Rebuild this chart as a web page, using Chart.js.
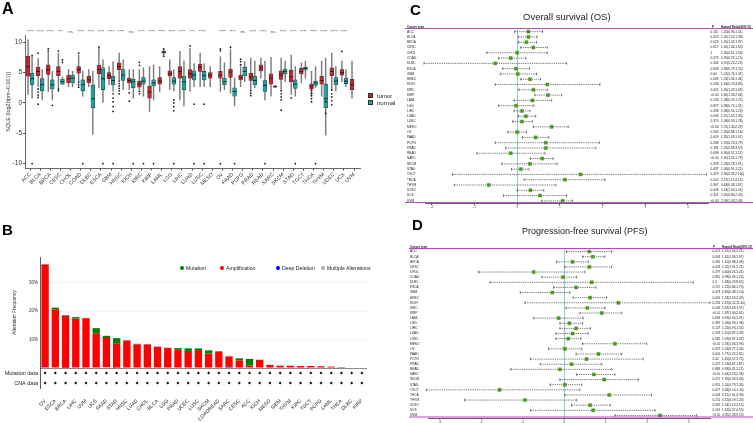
<!DOCTYPE html>
<html>
<head>
<meta charset="utf-8">
<title>SQLE pan-cancer</title>
<script src="https://cdn.jsdelivr.net/npm/chart.js@4.4.1/dist/chart.umd.min.js"></script>
<style>
  html, body { margin: 0; padding: 0; background: #fff; }
  body { position: relative; width: 753px; height: 423px; overflow: hidden; font-family: "Liberation Sans", Arial, sans-serif; color: #222; }
  canvas { position: absolute; }
  .txt { position: absolute; white-space: nowrap; line-height: 1; }
  .panel { font-weight: bold; font-size: 15px; color: #000; }
  .sq { position: absolute; width: 5px; height: 5px; box-sizing: border-box; border: 0.7px solid #333; }
  .dot { position: absolute; width: 4px; height: 4px; border-radius: 50%; }
</style>
</head>
<body>
<canvas id="boxA" width="365" height="205" style="left:0;top:0"></canvas>
<canvas id="barB" width="380" height="183" style="left:0;top:240px"></canvas>
<canvas id="forestC" width="351" height="216" style="left:402px;top:0"></canvas>
<canvas id="forestD" width="351" height="208" style="left:402px;top:215px"></canvas>

<div class="txt panel" style="left:2px;top:1px;font-size:16px">A</div>
<div class="txt panel" style="left:2px;top:222px">B</div>
<div class="txt panel" style="left:410px;top:2px">C</div>
<div class="txt panel" style="left:412px;top:217px">D</div>

<!-- legend A -->
<div class="sq" style="left:368px;top:93px;background:#C9252C"></div>
<div class="txt" style="left:377px;top:93px;font-size:6px">tumor</div>
<div class="sq" style="left:368px;top:100px;background:#1FA39F"></div>
<div class="txt" style="left:377px;top:100px;font-size:6px">normal</div>

<!-- legend B -->
<div class="dot" style="left:180px;top:266px;background:#008000"></div>
<div class="txt" style="left:186px;top:265.7px;font-size:5.2px">Mutation</div>
<div class="dot" style="left:220px;top:266px;background:#FF0000"></div>
<div class="txt" style="left:226px;top:265.7px;font-size:5.2px">Amplification</div>
<div class="dot" style="left:276px;top:266px;background:#0000FF"></div>
<div class="txt" style="left:282px;top:265.7px;font-size:5.2px">Deep Deletion</div>
<div class="dot" style="left:321px;top:266px;background:#AAAAAA"></div>
<div class="txt" style="left:327px;top:265.7px;font-size:5.2px">Multiple Alterations</div>

<!-- forest headers -->
<div class="txt" style="left:523px;top:12px;font-size:9.5px;color:#222">Overall survival (OS)</div>
<div class="txt" style="left:407px;top:25.5px;font-size:3px;font-weight:bold">Cancer type</div>
<div class="txt" style="left:712px;top:25.5px;font-size:3px;font-weight:bold">P</div>
<div class="txt" style="left:721px;top:25.5px;font-size:3px;font-weight:bold">Hazard Ratio(95% CI)</div>

<div class="txt" style="left:522px;top:227px;font-size:9px;color:#222">Progression-free survival (PFS)</div>
<div class="txt" style="left:410px;top:245.5px;font-size:3px;font-weight:bold">Cancer type</div>
<div class="txt" style="left:713px;top:245.5px;font-size:3px;font-weight:bold">P</div>
<div class="txt" style="left:722px;top:245.5px;font-size:3px;font-weight:bold">Hazard Ratio(95% CI)</div>

<script>
// ---- panel A: SQLE expression, tumor vs normal ----
const cancers = ['ACC','BLCA','BRCA','CESC','CHOL','COAD','DLBC','ESCA','GBM','HNSC','KICH','KIRC','KIRP',
  'LAML','LGG','LIHC','LUAD','LUSC','MESO','OV','PAAD','PCPG','PRAD','READ','SARC','SKCM','STAD','TGCT',
  'THCA','THYM','UCEC','UCS','UVM'];
const sigLabels = ['****','****','****','***','ns','****','****','****','****','****','ns','****','****',
  '****','****','****','***','****','','****','****','ns','****','****','ns','****','****','****',
  '****','****','****','****',''];
// [min, q1, median, q3, max]
const tumorStats = [
  [1.4,4.4,6.0,7.7,10.4],[2.7,4.5,5.2,5.9,7.3],[1.9,4.7,5.5,6.3,8.2],[2.5,4.5,5.2,6.0,8.2],
  [2.7,3.3,4.0,4.6,5.5],[3.5,4.9,5.5,6.0,7.9],[2.7,3.3,3.8,4.4,5.5],[2.5,4.8,5.5,6.2,9.0],
  [3.0,4.0,4.5,5.0,6.0],[3.8,5.5,6.0,6.6,8.2],[2.2,3.3,3.7,4.1,5.5],[2.1,2.6,3.1,3.6,5.5],
  [-1.4,0.8,1.8,2.8,6.0],[1.8,3.1,3.6,4.2,6.0],[2.2,4.4,4.8,5.3,7.1],[0.5,4.1,5.2,6.0,8.5],
  [1.9,4.1,4.8,5.5,9.0],[2.7,5.2,5.9,6.4,8.2],[2.7,4.1,4.6,5.0,6.0],[1.9,4.1,4.6,5.2,7.6],
  [1.6,4.2,5.1,5.6,8.8],[2.7,3.8,4.2,4.6,6.0],[2.2,3.7,4.3,4.9,7.4],[4.1,5.3,5.8,6.3,7.4],
  [1.1,3.1,4.1,4.8,7.5],[2.2,3.9,4.6,5.3,7.4],[1.4,3.5,4.3,5.4,7.9],[3.3,4.8,5.2,5.7,6.6],
  [1.1,2.3,2.7,3.1,5.2],[1.1,3.1,3.7,4.4,6.9],[2.2,4.5,5.2,5.8,8.2],[3.5,4.6,5.0,5.5,6.9],
  [0.8,2.2,3.0,3.9,6.9]
];
const normalStats = [
  [0.8,3.0,4.0,4.9,7.6],[0.5,2.0,3.0,4.0,5.5],[0.5,2.3,3.0,3.8,5.2],[3.0,3.1,3.5,3.9,4.3],
  [2.7,3.3,4.1,4.6,5.2],[1.1,2.0,3.0,3.8,5.2],[-5.2,-0.8,0.7,3.0,5.2],[0.0,2.2,4.0,5.8,7.1],
  [1.9,3.0,3.7,4.4,6.8],[2.2,3.7,4.6,5.5,7.1],[0.8,2.5,3.5,3.9,5.5],[1.1,3.1,3.6,4.2,5.8],
  [0.5,2.8,3.3,3.8,6.3],[7.9,8.2,8.35,8.5,8.8],[2.0,3.1,3.6,4.2,5.5],[-0.5,2.2,3.5,4.4,6.9],
  [2.7,3.8,4.6,5.3,6.5],[2.7,3.8,4.5,5.2,6.5],null,[2.2,3.0,3.5,4.1,6.6],
  [-0.5,1.1,1.9,2.5,4.1],[3.5,4.5,5.2,5.9,6.8],[2.5,3.0,3.7,4.4,6.9],[0.5,1.9,2.9,3.7,6.9],
  [2.5,2.6,2.7,2.8,2.9],[3.5,4.8,5.2,5.6,6.9],[1.1,2.4,3.1,3.8,6.0],[4.1,5.4,5.7,5.9,6.9],
  [2.5,2.9,3.3,3.6,6.0],[-5.3,-0.8,0.7,3.1,7.4],[2.0,3.0,3.6,4.2,6.0],[2.7,3.2,3.6,4.1,5.5],
  null
];
// [cancer index, value]
const tumorOutliers = [
  [1,8.2],[1,2.3],[1,1.8],[1,1.3],[1,0.9],[1,-0.2],[2,8.9],[2,8.5],[3,8.6],[3,2.3],[3,2.0],
  [5,8.2],[5,3.4],[5,3.0],[5,2.6],[7,9.2],[9,3.6],[9,3.2],[9,2.8],[9,2.4],[9,2.0],[9,1.5],
  [10,1.7],[10,0.3],[11,6.2],[11,6.7],[11,1.9],[11,1.5],[16,9.4],[19,8.6],[19,8.9],[19,-10],
  [20,9.2],[21,6.3],[21,6.8],[21,7.2],[22,2.0],[22,1.6],[22,1.2],[25,2.0],[25,1.5],[25,1.0],
  [25,0.5],[25,-1.2],[26,0.8],[28,2.1],[28,1.6],[28,1.2],[28,0.7],[28,0.2],[30,2.1],[30,1.5],
  [30,1.0],[30,0.4],[30,-0.3],[31,8.5]
];
const normalOutliers = [
  [0,7.8],[0,-10],[2,-0.4],[3,6.7],[3,7.1],[5,-10],[7,-10],[8,1.5],[8,0.8],[8,0.2],[8,-0.6],
  [8,-1.4],[8,-10],[10,-10],[11,-10],[12,-10],[13,8.9],[13,7.7],[14,0.5],[14,0],[14,-0.6],
  [14,-1.3],[14,-10],[16,-0.2],[16,-10],[17,-0.2],[17,-10],[20,-10],[23,-10],[26,-10],[28,-10],
  [29,0.2],[29,-1.7]
];
const yTicksA = [-10, -5, 0, 5, 10];

// ---- panel B: alteration frequency (%) ----
const bCancers = ['OV','ESCA','BRCA','LIHC','UVM','UCS','PAAD','STAD','HNSC','LUAD','CHOL','BLCA','LGG',
  'PRAD','UCEC','LUSC','SKCM','COADREAD','SARC','CESC','ACC','KICH','MESO','GBM','THYM','KIRC','TGCT',
  'PCPG','LAML','THCA','DLBC','KIRP'];
const deepDel  = [0.3,0,0.1,0.3,0,0,0,0,0,0,0,0,0,0,0,0,0,0,0.4,0,0,0,0,0,0,0,0,0,0,0.3,0,0];
const multiAlt = [0,0,0,0,0,0,0.3,0.1,0,0,0,0,0,0,0,0,0,0,0,0,0,0,0,0,0,0,0,0,0,0,0,0];
const amp      = [36.1,20.6,18.3,17.1,17.5,12.2,10.6,8.6,9.7,8.3,8.3,7.5,7.1,6.6,6.0,6.3,5.1,5.7,3.7,
  2.7,0.9,2.9,1.1,0.8,0.8,0.7,0.7,0.6,0.5,0,0,0];
const mut      = [0,0.6,0.2,0.5,0,1.8,0.4,1.8,0,0.2,0,0,0,0.4,0.9,0.6,1.1,0.2,0,0.7,2.3,0,0,0,0,0,0,0,0,0,0,0];
const freqTicks = [0, 10, 20, 30];
const rowLabels = ['Mutation data', 'CNA data'];

// ---- panel C: overall survival ----
const osHR = [1.20,1.20,1.16,1.30,1.00,0.90,0.70,0.98,1.01,1.23,1.63,1.30,1.65,1.28,0.98,1.08,1.15,
  1.08,1.75,1.00,1.35,1.59,1.59,0.90,1.50,1.23,1.06,2.80,2.17,0.63,1.24,1.45,2.09];
const osLow = [0.96,1.02,1.02,1.06,0.61,0.74,0.22,0.79,0.76,1.06,0.70,1.03,1.33,0.95,0.74,0.95,1.02,
  0.93,1.30,0.86,1.09,0.70,0.83,0.52,1.24,0.78,0.91,0.35,1.12,0.36,1.00,0.80,1.49];
const osHigh = [1.51,1.38,1.37,1.63,1.63,1.15,2.23,1.22,1.37,1.46,3.83,1.63,2.06,1.75,1.31,1.23,1.35,
  1.28,2.29,1.16,1.67,3.79,3.59,1.57,1.79,1.91,1.21,21.6,4.15,1.87,1.54,2.23,2.46];
const osP = ['0.110','0.014','0.029','0.017','1','0.579','0.344','0.846','0.64','0.009','0.208','0.025',
  '<0.001','0.158','0.877','0.458','0.039','0.370','<0.001','0.945','0.009','0.268','0.181','0.698',
  '<0.001','0.378','0.437','0.329','0.021','0.367','0.046','0.321','<0.001'];

// ---- panel D: progression-free survival ----
const pfsHR = [1.52,1.61,1.15,1.52,0.60,0.98,1.58,1.22,0.82,1.54,2.47,1.47,1.87,0.91,1.09,1.22,1.15,
  1.07,2.33,1.01,1.77,1.45,1.13,0.93,1.64,1.95,1.01,0.34,2.12,0.52,1.54,1.62,4.95];
const pfsLow = [1.04,1.36,0.88,1.01,0.24,0.69,0.29,0.84,0.48,1.16,0.52,1.03,1.30,0.60,0.93,0.93,0.87,
  0.87,1.36,0.77,1.22,0.57,0.67,0.41,1.23,0.93,0.79,0.10,1.01,0.19,1.13,0.57,2.33];
const pfsHigh = [2.21,1.97,1.49,2.21,1.41,1.23,8.62,1.70,1.10,2.03,11.4,1.97,2.61,1.37,1.36,1.55,1.49,
  1.32,3.96,1.34,2.61,3.74,1.87,2.21,2.33,3.44,1.34,1.30,4.30,1.23,2.15,4.55,9.13];
const pfsP = ['0.027','0.001','0.282','0.041','0.379','0.862','0.5','0.217','0.478','0.003','0.256','0.045',
  '<0.001','0.666','0.397','0.129','0.331','0.582','<0.001','0.929','0.002','0.42','0.475','0.868',
  '<0.001','0.072','0.950','0.079','0.041','0.211','0.009','0.207','<0.001'];

Chart.defaults.font.family = '"Liberation Sans", Arial, sans-serif';
Chart.defaults.color = '#222';
Chart.defaults.animation = false;
Chart.defaults.events = [];
Chart.defaults.plugins.legend.display = false;
Chart.defaults.plugins.tooltip.enabled = false;

// ---------- A ----------
function boxDatasets(stats, outliers, shift, fill) {
  const rows = [];
  stats.forEach((s, i) => { if (s) rows.push([i + shift, s]); });
  return [
    { type: 'bar', data: rows.map(([x, s]) => ({ x: x, y: [s[0], s[4]] })), backgroundColor: '#7d7d7d',
      barThickness: 0.8, grouped: false, order: 5 },
    { type: 'bar', data: rows.map(([x, s]) => ({ x: x, y: [s[1], s[3]] })), backgroundColor: fill,
      borderColor: '#3a3a3a', borderWidth: 0.6, borderSkipped: false, barThickness: 3.8, grouped: false, order: 4 },
    { type: 'scatter', data: rows.map(([x, s]) => ({ x: x, y: s[2] })), pointStyle: 'line', pointRadius: 1.9,
      borderColor: '#1a1a1a', pointBorderColor: '#1a1a1a', pointBorderWidth: 0.9, order: 3 },
    { type: 'scatter', data: outliers.map(([i, v]) => ({ x: i + shift, y: v })), pointRadius: 0.9,
      pointBackgroundColor: '#1a1a1a', pointBorderWidth: 0, order: 2 }
  ];
}
const catTicks = s => { s.ticks = cancers.map((c, i) => ({ value: i })); };

new Chart(document.getElementById('boxA'), {
  type: 'bar',
  data: { datasets: [...boxDatasets(tumorStats, tumorOutliers, -0.2, '#C9252C'),
                     ...boxDatasets(normalStats, normalOutliers, 0.2, '#1FA39F')] },
  options: {
    responsive: false, devicePixelRatio: 1,
    layout: { padding: { top: 25, right: 3 } },
    scales: {
      x: { type: 'linear', min: -0.5, max: 32.6, offset: false, afterBuildTicks: catTicks,
        ticks: { autoSkip: false, maxRotation: 45, minRotation: 45, font: { size: 5.2 }, color: '#333', padding: 1,
          callback: v => cancers[v] },
        grid: { drawOnChartArea: false, offset: false, tickLength: 2, color: '#444' },
        border: { color: '#444', width: 0.8 },
        afterFit: s => { s.height = 36.5; } },
      x2: { type: 'linear', position: 'top', min: -0.5, max: 32.6, offset: false, afterBuildTicks: catTicks,
        ticks: { autoSkip: false, maxRotation: 0, minRotation: 0, font: { size: 4.3 }, color: '#444', padding: 1,
          callback: v => sigLabels[v] },
        grid: { display: false, drawTicks: false }, border: { display: false },
        afterFit: s => { s.height = 10; } },
      y: { min: -10.8, max: 11.2, afterBuildTicks: s => { s.ticks = yTicksA.map(v => ({ value: v })); },
        ticks: { font: { size: 6.5 }, color: '#333', padding: 1 },
        grid: { drawOnChartArea: false, tickLength: 2, color: '#444' },
        border: { color: '#444', width: 0.8 },
        title: { display: true, text: 'SQLE (log2(tpm+0.001))', font: { size: 5.5 }, color: '#333', padding: { top: 5, bottom: 0 } },
        afterFit: s => { s.width = 25; } }
    }
  }
});

// ---------- B ----------
new Chart(document.getElementById('barB'), {
  type: 'bar',
  data: {
    labels: bCancers,
    datasets: [
      { label: 'Deep Deletion', data: deepDel, backgroundColor: '#0000FF', yAxisID: 'y' },
      { label: 'Multiple Alterations', data: multiAlt, backgroundColor: '#AAAAAA', yAxisID: 'y' },
      { label: 'Amplification', data: amp, backgroundColor: '#FF0000', yAxisID: 'y' },
      { label: 'Mutation', data: mut, backgroundColor: '#008000', yAxisID: 'y' },
      { type: 'scatter', yAxisID: 'yRows', data: bCancers.map(c => ({ x: c, y: rowLabels[0] })),
        pointStyle: 'rectRot', pointRadius: 1.5, pointBackgroundColor: '#111', pointBorderWidth: 0 },
      { type: 'scatter', yAxisID: 'yRows', data: bCancers.map(c => ({ x: c, y: rowLabels[1] })),
        pointStyle: 'rectRot', pointRadius: 1.5, pointBackgroundColor: '#111', pointBorderWidth: 0 }
    ]
  },
  options: {
    responsive: false, devicePixelRatio: 1,
    layout: { padding: { top: 17, right: 13 } },
    datasets: { bar: { barPercentage: 0.72, categoryPercentage: 1, borderWidth: 0 } },
    scales: {
      x: { stacked: true,
        ticks: { autoSkip: false, maxRotation: 45, minRotation: 45, font: { size: 5 }, color: '#222', padding: 2 },
        grid: { display: false }, border: { display: false },
        afterFit: s => { s.height = 35; } },
      // the stack is filled from the last left axis, so the rows axis comes first here
      yRows: { axis: 'y', type: 'category', labels: rowLabels, offset: true, position: 'left', stack: 'b', stackWeight: 20,
        grid: { display: false, drawTicks: false }, border: { color: '#333', width: 0.8 },
        ticks: { font: { size: 5.5 }, color: '#222', padding: 2, autoSkip: false },
        afterFit: s => { s.width = 40; } },
      y: { stacked: true, stack: 'b', stackWeight: 111, min: 0, max: 39,
        afterBuildTicks: s => { s.ticks = freqTicks.map(v => ({ value: v })); },
        ticks: { font: { size: 4.5 }, color: '#333', padding: 2, callback: v => v === 0 ? '' : v + '%' },
        grid: { color: c => (c.tick && c.tick.value === 0) ? '#8a8a8a' : '#ececec',
          lineWidth: c => (c.tick && c.tick.value === 0) ? 1 : 0.6, drawTicks: false },
        border: { color: '#333', width: 0.8 },
        title: { display: true, text: 'Alteration Frequency', font: { size: 4.8 }, color: '#333', padding: { top: 12, bottom: 0 } },
        afterFit: s => { s.width = 40; } }
    }
  }
});

// ---------- C / D forest plots ----------
const purpleLines = {
  id: 'purpleLines',
  afterDraw(chart, args, o) {
    const { ctx, chartArea: a } = chart;
    ctx.save();
    ctx.strokeStyle = o.color;
    ctx.lineWidth = 1;
    ctx.beginPath();
    ctx.moveTo(o.x0, a.top - 0.5); ctx.lineTo(chart.width, a.top - 0.5);
    ctx.moveTo(o.x0, a.bottom - 1); ctx.lineTo(chart.width, a.bottom - 1);
    ctx.stroke();
    ctx.restore();
  }
};

function forestChart(id, hr, lo, hi, pv, o) {
  const ci = [];
  cancers.forEach((c, i) => {
    ci.push({ x: Math.log2(lo[i]), y: c }, { x: Math.log2(hi[i]), y: c }, { x: null, y: c });
  });
  const pts = cancers.map((c, i) => ({ x: Math.log2(hr[i]), y: c }));
  const hrText = hr.map((h, i) => h.toFixed(2) + '(' + lo[i].toFixed(2) + ',' + hi[i].toFixed(2) + ')');
  const sideAxis = (labels, weight, width, pad) => ({
    type: 'category', labels: labels, offset: true, position: 'right', weight: weight,
    ticks: { font: { size: 3.2 }, color: '#222', padding: pad, autoSkip: false },
    grid: { display: false, drawTicks: false }, border: { display: false },
    afterFit: s => { s.width = width; }
  });
  return new Chart(document.getElementById(id), {
    type: 'scatter',
    data: { datasets: [
      { data: ci, showLine: true, spanGaps: false, borderColor: '#222', borderWidth: 0.6, borderDash: [1.3, 0.9],
        pointStyle: 'line', pointRotation: 90, pointRadius: 1.3, pointBorderColor: '#222', pointBorderWidth: 0.6,
        clip: false, order: 2 },
      { data: pts, pointStyle: 'rect', pointRadius: 2.2, pointBackgroundColor: '#4E9A1F',
        pointBorderColor: '#3F8A14', pointBorderWidth: 0.4, clip: false, order: 1 }
    ] },
    options: {
      responsive: false, devicePixelRatio: 1,
      layout: { padding: { top: o.top, left: o.left, right: 0, bottom: 0 } },
      scales: {
        x: { type: 'linear', min: o.min, max: o.max,
          afterBuildTicks: s => { s.ticks = o.ticks.map(v => ({ value: v })); },
          ticks: { font: { size: 3.2 }, color: '#444', padding: 0.5 },
          grid: { color: c => (c.tick && c.tick.value === 0) ? '#79CBD0' : 'rgba(0,0,0,0)', lineWidth: 0.9,
            tickColor: '#333', tickLength: 1.5 },
          border: { color: '#222', width: 0.7 },
          afterFit: s => { s.height = o.xh; } },
        y: { type: 'category', labels: cancers, offset: true, position: 'left',
          ticks: { font: { size: 3.2 }, color: '#222', crossAlign: 'far', padding: 0, autoSkip: false },
          grid: { display: false, drawTicks: false }, border: { display: false },
          afterFit: s => { s.width = o.yw; } },
        yP: sideAxis(pv, 1, o.pw, 2.5),
        yHR: sideAxis(hrText, 2, o.hw, 2)
      },
      plugins: { purpleLines: { color: o.purple, x0: o.x0 } }
    },
    plugins: [purpleLines]
  });
}

forestChart('forestC', osHR, osLow, osHigh, osP,
  { top: 29, left: 5, yw: 18, pw: 11, hw: 34, xh: 12.5, min: -2.16, max: 4.47,
    ticks: [-2, -1, 0, 1, 2, 3, 4], purple: '#B455B8', x0: 3 });
forestChart('forestD', pfsHR, pfsLow, pfsHigh, pfsP,
  { top: 34, left: 8, yw: 18, pw: 10, hw: 33, xh: 5, min: -3.28, max: 3.51,
    ticks: [-3, -2, -1, 0, 1, 2, 3], purple: '#C23FC6', x0: 7 });
</script>
</body>
</html>
